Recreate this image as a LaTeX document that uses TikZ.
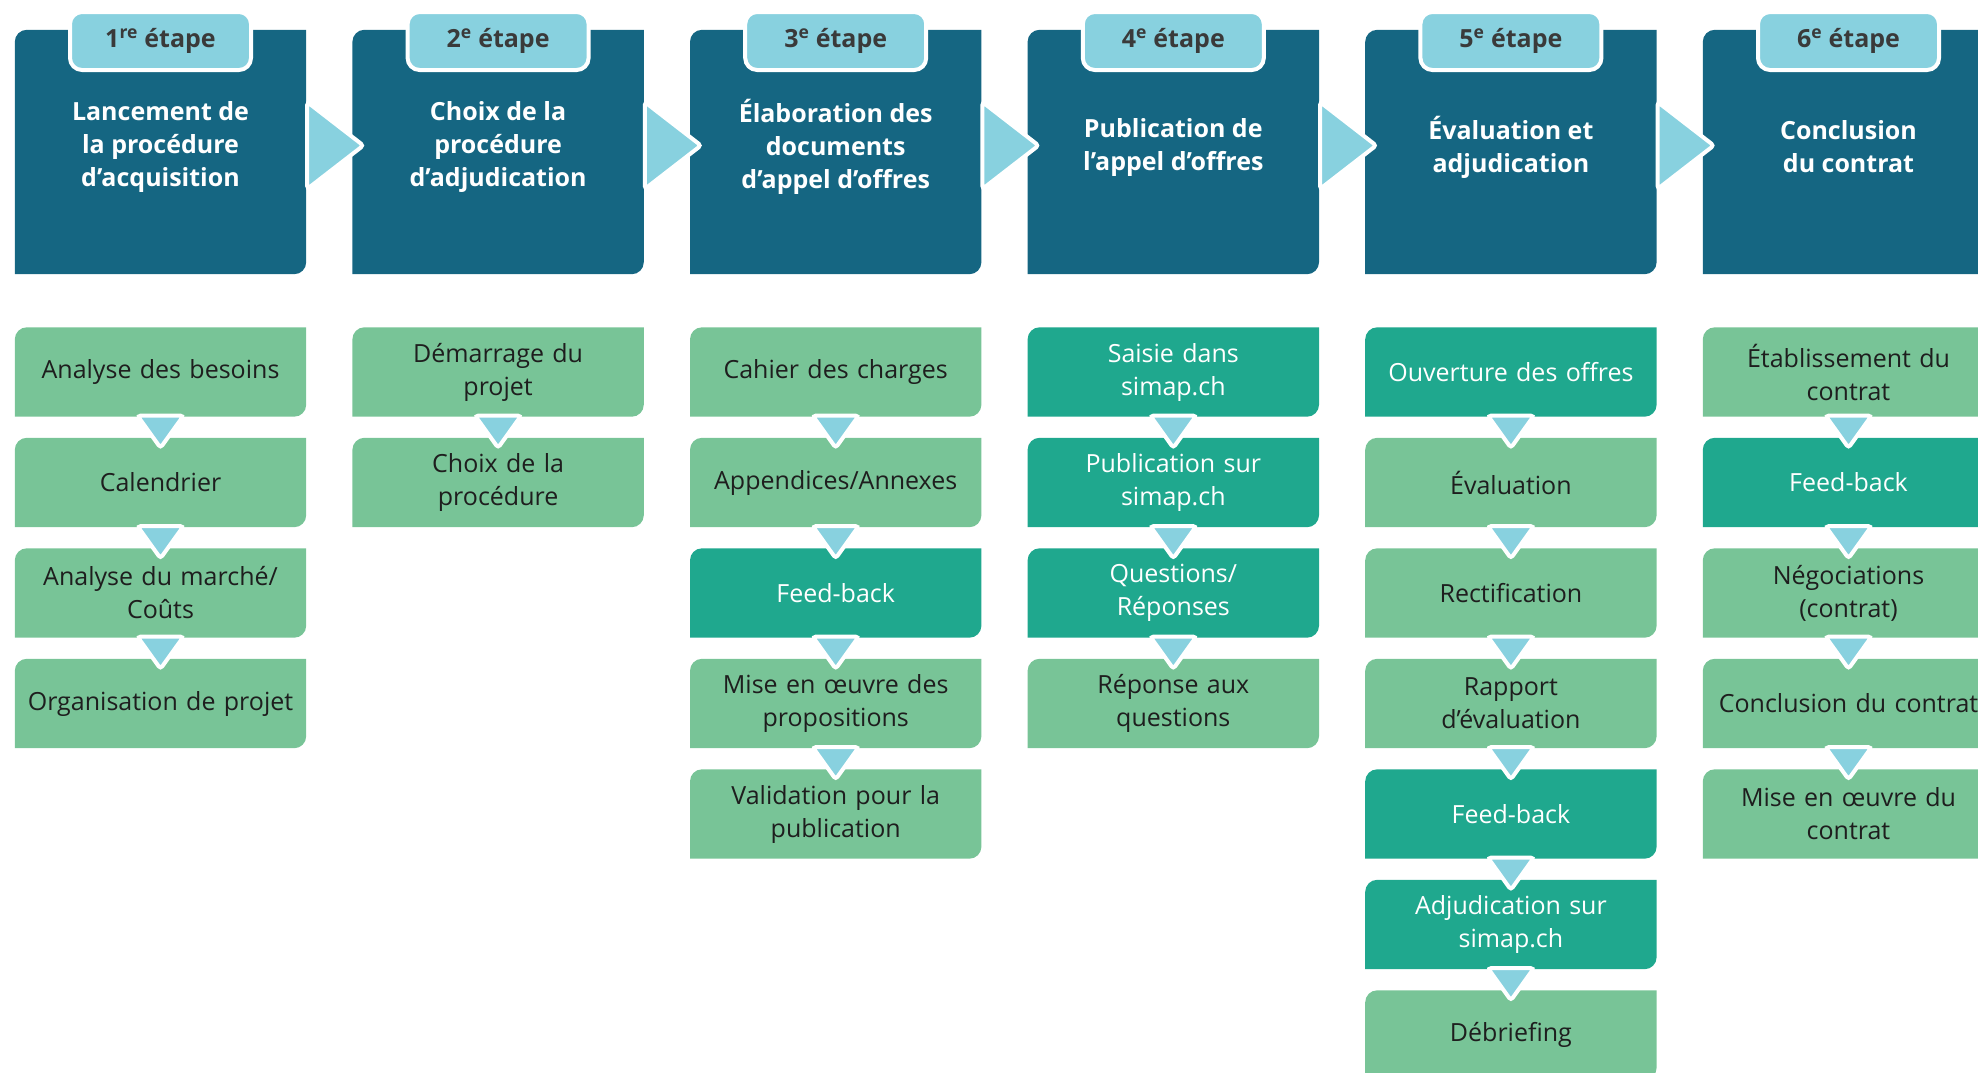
\documentclass[tikz,border=0pt]{standalone}
\usepackage{fontspec}
\setmainfont{Open Sans}
\usetikzlibrary{calc,backgrounds}

\definecolor{bleufonce}{RGB}{21,102,130}
\definecolor{bleuclair}{RGB}{136,209,223}
\definecolor{vertclair}{RGB}{120,196,151}
\definecolor{vertfonce}{RGB}{31,168,142}
\definecolor{grisfonce}{RGB}{58,58,58}
\definecolor{encre}{RGB}{30,30,30}

% fond arrondi en haut a gauche et en bas a droite
\newcommand{\feuille}[2]{%
  \fill[#2] (#1.south west) -- ([yshift=-12pt]#1.north west)
    arc[start angle=180, end angle=90, radius=12pt] -- (#1.north east)
    -- ([yshift=12pt]#1.south east)
    arc[start angle=0, end angle=-90, radius=12pt] -- cycle;}

\tikzset{
  entete/.style={minimum width=291pt, minimum height=244pt, inner sep=0pt},
  titre/.style={text=white, align=center, font=\bfseries\fontsize{25}{33}\selectfont},
  onglet/.style={fill=bleuclair, draw=white, line width=4pt, rounded corners=12pt,
    minimum width=181pt, minimum height=58pt, inner sep=0pt, text=grisfonce,
    font=\bfseries\fontsize{25}{30}\selectfont},
  case/.style={text width=291pt, inner xsep=0pt, inner ysep=0pt, minimum height=89pt,
    align=center, text=encre, font=\fontsize{25}{33}\selectfont},
  caseblanc/.style={case, text=white},
  fleche/.style={fill=bleuclair, draw=white, line width=4pt, rounded corners=3pt}
}

\begin{document}
\begin{tikzpicture}[x=1pt, y=1pt]
  \useasboundingbox (0,0) rectangle (1978,-1072);
  \clip (0,0) rectangle (1978,-1072);

  % Etapes
  \node[entete] (H1) at (160.5,-152) {};
  \node[entete] (H2) at (498.1,-152) {};
  \node[entete] (H3) at (835.7,-152) {};
  \node[entete] (H4) at (1173.3,-152) {};
  \node[entete] (H5) at (1510.9,-152) {};
  \node[entete] (H6) at (1848.5,-152) {};

  % Onglets
  \node[onglet] (O1) at (160.5,-41) {1\textsuperscript{re} étape};
  \node[onglet] (O2) at (498.1,-41) {2\textsuperscript{e} étape};
  \node[onglet] (O3) at (835.7,-41) {3\textsuperscript{e} étape};
  \node[onglet] (O4) at (1173.3,-41) {4\textsuperscript{e} étape};
  \node[onglet] (O5) at (1510.9,-41) {5\textsuperscript{e} étape};
  \node[onglet] (O6) at (1848.5,-41) {6\textsuperscript{e} étape};

  % Titres
  \node[titre] (T1) at (160.5,-147) {Lancement de\\la procédure\\d’acquisition};
  \node[titre] (T2) at (498.1,-147) {Choix de la\\procédure\\d’adjudication};
  \node[titre] (T3) at (835.7,-147) {Élaboration des\\documents\\d’appel d’offres};
  \node[titre] (T4) at (1173.3,-147) {Publication de\\l’appel d’offres};
  \node[titre] (T5) at (1510.9,-147) {Évaluation et\\adjudication};
  \node[titre] (T6) at (1848.5,-147) {Conclusion\\du contrat};

  % Cases
  \node[case] (A1) at (160.5,-372) {Analyse des besoins};
  \node[case] (A2) at (160.5,-482.5) {Calendrier};
  \node[case] (A3) at (160.5,-593) {Analyse du marché/\\Coûts};
  \node[case] (A4) at (160.5,-703.5) {Organisation de projet};

  \node[case] (B1) at (498.1,-372) {Démarrage du\\projet};
  \node[case] (B2) at (498.1,-482.5) {Choix de la\\procédure};

  \node[case] (C1) at (835.7,-372) {Cahier des charges};
  \node[case] (C2) at (835.7,-482.5) {Appendices/Annexes};
  \node[caseblanc] (C3) at (835.7,-593) {Feed-back};
  \node[case] (C4) at (835.7,-703.5) {Mise en œuvre des\\propositions};
  \node[case] (C5) at (835.7,-814) {Validation pour la\\publication};

  \node[caseblanc] (D1) at (1173.3,-372) {Saisie dans\\simap.ch};
  \node[caseblanc] (D2) at (1173.3,-482.5) {Publication sur\\simap.ch};
  \node[caseblanc] (D3) at (1173.3,-593) {Questions/\\Réponses};
  \node[case] (D4) at (1173.3,-703.5) {Réponse aux\\questions};

  \node[caseblanc] (E1) at (1510.9,-372) {Ouverture des offres};
  \node[case] (E2) at (1510.9,-482.5) {Évaluation};
  \node[case] (E3) at (1510.9,-593) {Rectification};
  \node[case] (E4) at (1510.9,-703.5) {Rapport\\d’évaluation};
  \node[caseblanc] (E5) at (1510.9,-814) {Feed-back};
  \node[caseblanc] (E6) at (1510.9,-924.5) {Adjudication sur\\simap.ch};
  \node[case] (E7) at (1510.9,-1035) {Débriefing};

  \node[case] (F1) at (1848.5,-372) {Établissement du\\contrat};
  \node[caseblanc] (F2) at (1848.5,-482.5) {Feed-back};
  \node[case] (F3) at (1848.5,-593) {Négociations\\(contrat)};
  \node[case] (F4) at (1848.5,-703.5) {Conclusion du contrat};
  \node[case] (F5) at (1848.5,-814) {Mise en œuvre du\\contrat};

  % Fonds
  \begin{pgfonlayer}{background}
    \foreach \n/\c in {H1/bleufonce, H2/bleufonce, H3/bleufonce, H4/bleufonce,
        H5/bleufonce, H6/bleufonce,
        A1/vertclair, A2/vertclair, A3/vertclair, A4/vertclair,
        B1/vertclair, B2/vertclair,
        C1/vertclair, C2/vertclair, C3/vertfonce, C4/vertclair, C5/vertclair,
        D1/vertfonce, D2/vertfonce, D3/vertfonce, D4/vertclair,
        E1/vertfonce, E2/vertclair, E3/vertclair, E4/vertclair, E5/vertfonce,
        E6/vertfonce, E7/vertclair,
        F1/vertclair, F2/vertfonce, F3/vertclair, F4/vertclair, F5/vertclair}
      {\feuille{\n}{\c}}
  \end{pgfonlayer}

  % Fleches entre etapes
  \foreach \a/\b in {H1/H2, H2/H3, H3/H4, H4/H5, H5/H6}
    \filldraw[fleche] ($(\a.east)+(1,50)$) -- ($(\a.east)+(1,-37)$)
      -- ($(\b.west)+(11,6.5)$) -- cycle;

  % Fleches entre cases
  \foreach \a/\b in {A1/A2, A2/A3, A3/A4, B1/B2, C1/C2, C2/C3, C3/C4, C4/C5,
      D1/D2, D2/D3, D3/D4, E1/E2, E2/E3, E3/E4, E4/E5, E5/E6, E6/E7,
      F1/F2, F2/F3, F3/F4, F4/F5}
    \filldraw[fleche] ($(\a.south)+(-23,1)$) -- ($(\a.south)+(23,1)$)
      -- ($(\b.north)+(0,-10)$) -- cycle;
\end{tikzpicture}
\end{document}
